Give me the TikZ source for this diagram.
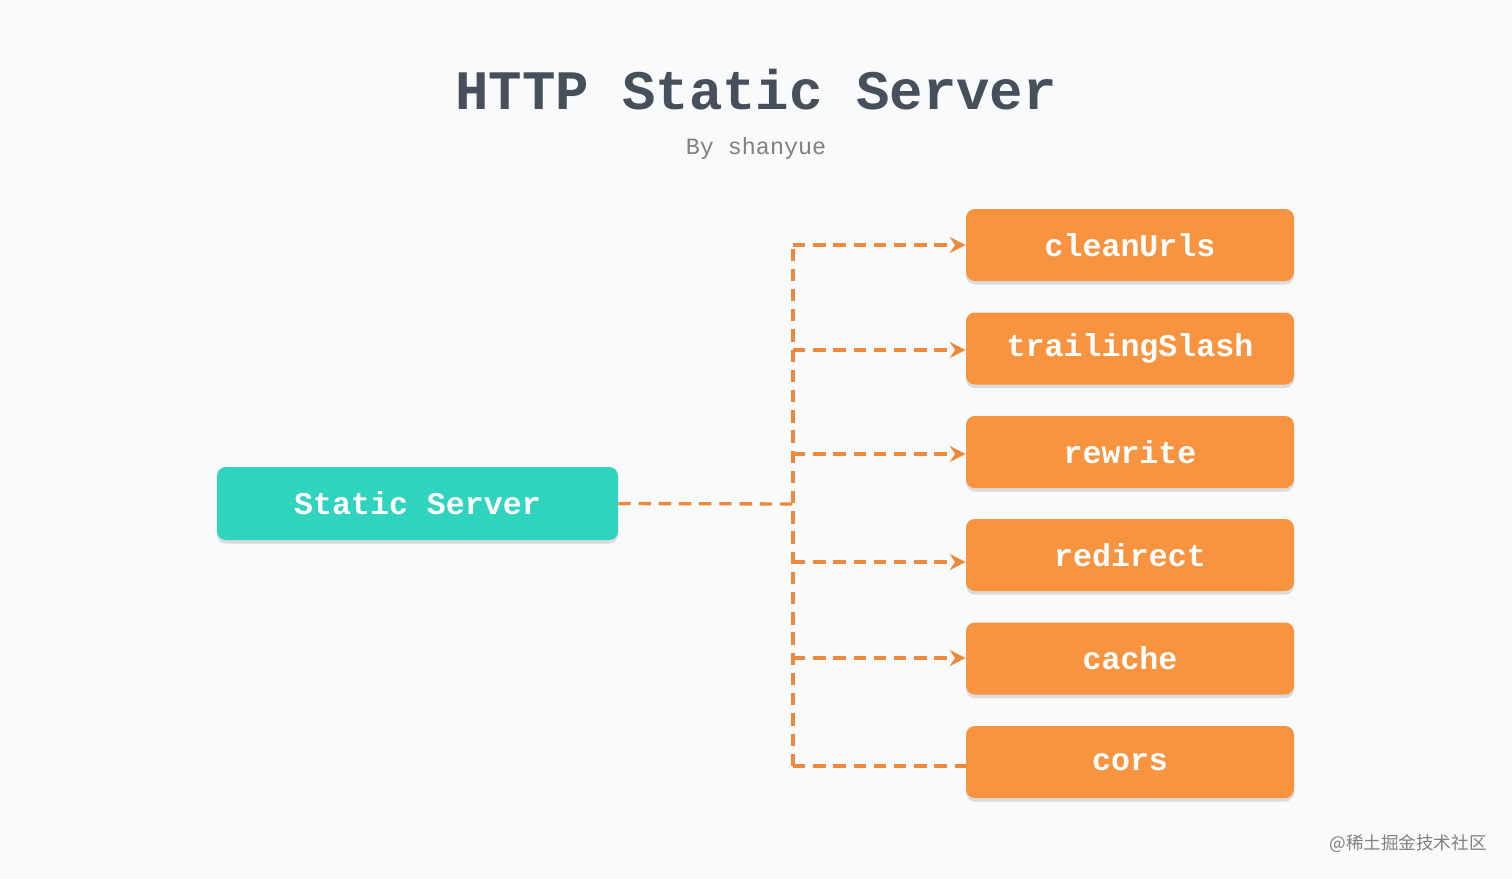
\documentclass[tikz,border=0pt]{standalone}
\usepackage{fontspec}
\setmonofont{Liberation Mono}
\newfontfamily\cjk{Noto Sans CJK SC}
\usetikzlibrary{arrows.meta,shadows}
\definecolor{bg}{HTML}{F8FAFC}
\definecolor{teal}{HTML}{2FD3BE}
\definecolor{org}{HTML}{F8943F}
\definecolor{line}{HTML}{F0883A}
\definecolor{ttl}{HTML}{474F5A}
\tikzset{
 box/.style={rounded corners=5pt,inner sep=0pt,text=white,font=\ttfamily\bfseries\fontsize{18}{20}\selectfont,
   drop shadow={shadow xshift=0pt,shadow yshift=-2pt,opacity=0.25}},
 obox/.style={box,fill=org,minimum width=328*0.02cm,minimum height=72*0.02cm},
 conn/.style={line,line width=1.9pt,dash pattern=on 7pt off 4.5pt},
 arr/.style={conn,-{Stealth[length=9pt,width=9pt,inset=3pt]}}
}
\begin{document}
\begin{tikzpicture}[x=0.02cm,y=-0.02cm]
\fill[bg] (0,0) rectangle (1512,879);
\useasboundingbox (0,0) rectangle (1512,879);
\node[font=\ttfamily\bfseries\fontsize{31.7}{34}\selectfont,text=ttl] (title) at (756,90) {HTTP Static Server};
\node[font=\ttfamily\fontsize{13.3}{15}\selectfont,text=gray] (by) at (756,148) {By shanyue};
\node[box,fill=teal,minimum width=401*0.02cm,minimum height=73*0.02cm] (s) at (417.5,503.5) {Static Server};
\node[obox] (b1) at (1130,245) {cleanUrls};
\node[obox] (b2) at (1130,348.5) {trailingSlash};
\node[obox] (b3) at (1130,452) {rewrite};
\node[obox] (b4) at (1130,555) {redirect};
\node[obox] (b5) at (1130,658.5) {cache};
\node[obox] (b6) at (1130,762) {cors};
\coordinate (j) at (793,504);
\draw[conn] (s.east) -- (j);
\draw[conn] (793,766) -- (793,245);
\draw[arr] (793,245) -- (b1.west|-793,245);
\draw[arr] (793,350) -- (b2.west|-793,350);
\draw[arr] (793,454) -- (b3.west|-793,454);
\draw[arr] (793,562) -- (b4.west|-793,562);
\draw[arr] (793,658) -- (b5.west|-793,658);
\draw[conn] (793,766) -- (b6.west|-793,766);
\node[font=\cjk\fontsize{10}{12}\selectfont,text=gray] (wm) at (1408,844) {@稀土掘金技术社区};
\end{tikzpicture}
\end{document}
